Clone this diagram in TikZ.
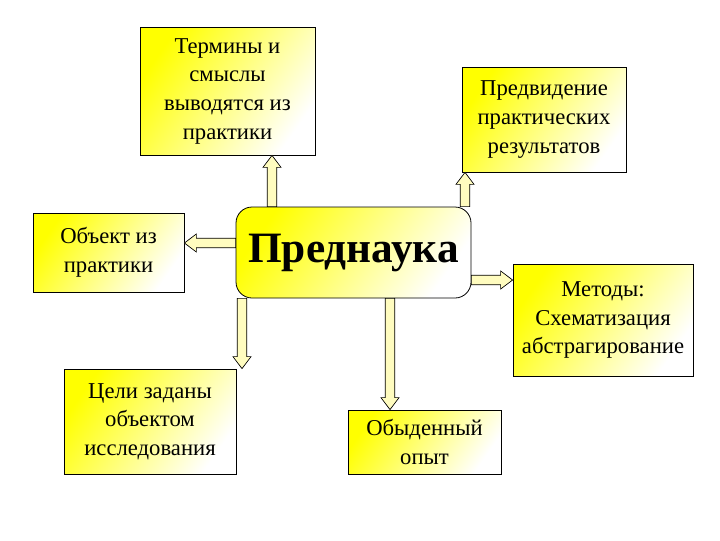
\documentclass[tikz,border=0pt]{standalone}
\usepackage{fontspec}
\setmainfont{Liberation Serif}
\usetikzlibrary{calc}
\tikzset{
 box/.style={draw=black, line width=0.6pt, left color=yellow, right color=white, shading angle=55, align=center, inner sep=0pt, font=\fontsize{17}{21.5}\selectfont},
 arr/.style={draw=black, line width=0.5pt, fill=yellow!25!white, line join=miter}
}
\newcommand\barr[2]{%
 \coordinate (hh) at ($(#2)!9pt!(#1)$);
 \draw[arr] ($(#1)!3.6pt!-90:(#2)$) -- ($(hh)!3.6pt!-90:(#2)$) -- ($(hh)!6.8pt!-90:(#2)$) -- (#2)
   -- ($(hh)!6.8pt!90:(#2)$) -- ($(hh)!3.6pt!90:(#2)$) -- ($(#1)!3.6pt!90:(#2)$) -- cycle;}
\begin{document}
\begin{tikzpicture}[x=0.75pt,y=-0.75pt]
\useasboundingbox[fill=white] (0,0) rectangle (720,540);
\node[box, minimum width=131.25pt, minimum height=96pt] (ter) at (227.5,91) {Термины и\\смыслы\\выводятся из\\практики};
\node[box, minimum width=123pt, minimum height=78.75pt] (pred) at (544,119.5) {Предвидение\\практических\\результатов};
\node[box, minimum width=113.25pt, minimum height=59.25pt] (obj) at (108.5,252.5) {Объект из\\практики};
\node[box, rounded corners=12pt, minimum width=176.25pt, minimum height=68.25pt, font=\fontsize{32.5}{36}\selectfont\bfseries] (pre) at (353.5,252.5) {Преднаука};
\node[box, minimum width=135pt, minimum height=84pt] (met) at (603,320) {Методы:\\Схематизация\\абстрагирование};
\node[box, minimum width=129pt, minimum height=78.75pt] (cel) at (150,421.5) {Цели заданы\\объектом\\исследования};
\node[box, minimum width=114.75pt, minimum height=48pt] (oby) at (424.5,442) {Обыденный\\опыт};
\barr{272,0 |- pre.north}{272,0 |- ter.south}
\barr{465,0 |- pre.north}{465,0 |- pred.south}
\barr{0,243 -| pre.west}{0,243 -| obj.east}
\barr{0,280 -| pre.east}{0,280 -| met.west}
\barr{242,0 |- pre.south}{242,0 |- cel.north}
\barr{390,0 |- pre.south}{390,0 |- oby.north}
\end{tikzpicture}
\end{document}
